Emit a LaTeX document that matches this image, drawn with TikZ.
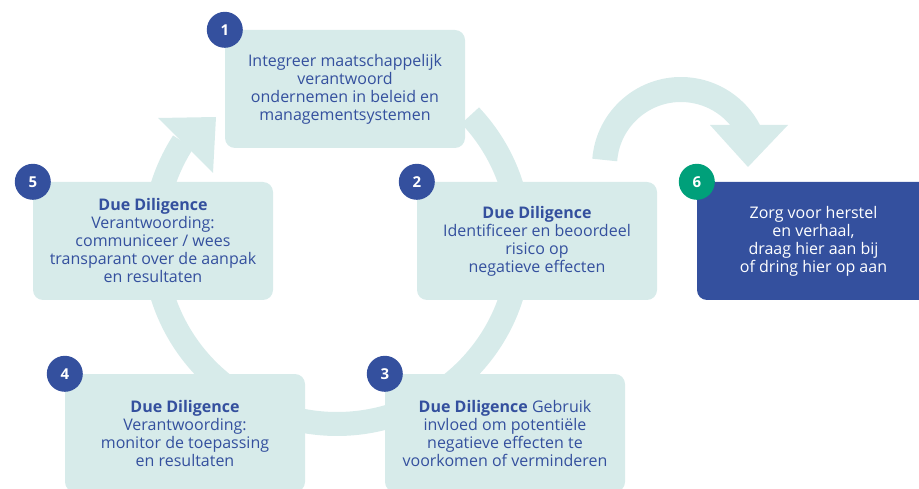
\documentclass[tikz,border=0pt]{standalone}
\usepackage{fontspec}
\setmainfont{Open Sans}
\usetikzlibrary{positioning}
\definecolor{mvoLight}{HTML}{D7EBEA}
\definecolor{mvoBlue}{HTML}{34509E}
\definecolor{mvoGreen}{HTML}{00A07A}

\begin{document}
\begin{tikzpicture}[x=1pt,y=-1pt,
  stap/.style={fill=mvoLight, rounded corners=10pt, minimum width=240pt,
    minimum height=118pt, inner sep=0pt, align=center, text=mvoBlue,
    font=\fontsize{16}{18}\selectfont},
  nummer/.style={circle, fill=mvoBlue, text=white, minimum size=36pt,
    inner sep=0pt, font=\fontsize{15}{15}\selectfont\bfseries},
  band/.style={draw=mvoLight, line width=24pt}]
\useasboundingbox (0,0) rectangle (919,489);

% Cycle
\coordinate (ring) at (337,241);
\draw[band] (ring) ++(43.3:183pt) arc[start angle=43.3, end angle=-212.8, radius=183pt];
\fill[mvoLight] (158,118) -- (216,117) -- (213,173) -- cycle;

% Arrow to step 6
\coordinate (boog) at (681,166);
\draw[band, line width=25pt] (boog) ++(175.5:76.5pt) arc[start angle=175.5, end angle=27.4, radius=76.5pt];
\fill[mvoLight] (710,125) -- (788,125) -- (748,167) -- cycle;

% Steps
\node[stap] (integreer) at (345,89) {Integreer maatschappelijk\\verantwoord\\ondernemen in beleid en\\managementsystemen};
\node[stap] (identificeer) at (537,241) {\textbf{Due Diligence}\\Identificeer en beoordeel\\risico op\\negatieve effecten};
\node[stap] (voorkom) at (505,433) {\textbf{Due Diligence} Gebruik\\invloed om potentiële\\negatieve effecten te\\voorkomen of verminderen};
\node[stap] (monitor) at (185,433) {\textbf{Due Diligence}\\Verantwoording:\\monitor de toepassing\\en resultaten};
\node[stap] (communiceer) at (153,241) {\textbf{Due Diligence}\\Verantwoording:\\communiceer / wees\\transparant over de aanpak\\en resultaten};
\node[stap, fill=mvoBlue, text=white, minimum width=233pt] (herstel) at (813.5,241) {Zorg voor herstel\\en verhaal,\\draag hier aan bij\\of dring hier op aan};

% Numbers
\node[nummer] (n1) at (integreer.north west) {1};
\node[nummer] (n2) at (identificeer.north west) {2};
\node[nummer] (n3) at (voorkom.north west) {3};
\node[nummer] (n4) at (monitor.north west) {4};
\node[nummer] (n5) at (communiceer.north west) {5};
\node[nummer, fill=mvoGreen] (n6) at (herstel.north west) {6};
\end{tikzpicture}
\end{document}
